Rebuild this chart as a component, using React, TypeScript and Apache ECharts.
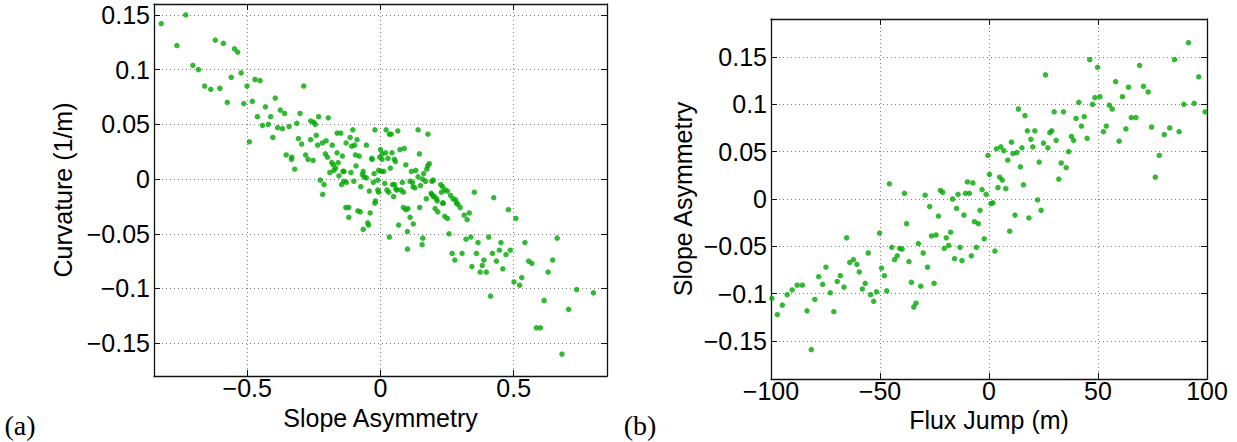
import React, { useEffect, useRef } from 'react';
import * as echarts from 'echarts';

// Panel (a): Slope Asymmetry (x) vs Curvature (1/m) (y)
const slopeAsymA = [
  -0.823, -0.731, -0.764, -0.704, -0.683, -0.620, -0.590, -0.548, -0.536, -0.660,
  -0.637, -0.603, -0.560, -0.523, -0.501, -0.575, -0.513, -0.481, -0.471, -0.452,
  -0.288, -0.395, -0.432, -0.462, -0.443, -0.421, -0.412, -0.492, -0.404, -0.376,
  -0.360, -0.386, -0.368, -0.343, -0.302, -0.314, -0.262, -0.251, -0.245, -0.196,
  -0.232, -0.308, -0.296, -0.241, -0.262, -0.236, -0.218, -0.354, -0.333, -0.334,
  -0.322, -0.281, -0.272, -0.253, -0.204, -0.181, -0.163, -0.149, -0.207, -0.199,
  -0.163, -0.143, -0.183, -0.177, -0.159, -0.168, -0.175, -0.190, -0.226, -0.212,
  -0.217, -0.129, -0.114, -0.104, -0.108, -0.097, -0.088, -0.053, -0.094, -0.080,
  -0.092, -0.137, -0.111, -0.138, -0.128, -0.146, -0.100, -0.065, -0.068, -0.061,
  -0.074, -0.053, -0.033, -0.031, -0.021, 0.000, 0.006, 0.019, 0.043, -0.003,
  0.028, 0.006, 0.033, 0.021, 0.040, 0.065, 0.052, 0.056, 0.073, 0.089,
  -0.007, 0.003, 0.012, 0.037, -0.024, -0.010, -0.027, -0.042, -0.010, -0.007,
  0.016, 0.024, 0.031, 0.045, 0.053, 0.058, 0.049, 0.061, 0.077, 0.086,
  0.082, 0.095, 0.116, 0.111, 0.120, 0.122, 0.129, 0.132, 0.141, 0.141,
  0.178, 0.146, 0.183, 0.177, 0.174, 0.162, 0.158, 0.169, 0.193, 0.198,
  0.193, 0.202, 0.210, 0.172, 0.147, 0.086, 0.095, 0.103, 0.111, 0.123,
  0.068, 0.101, 0.033, 0.159, 0.156, 0.101, 0.205, 0.215, 0.226, 0.233,
  0.229, 0.242, 0.251, 0.235, 0.241, 0.251, 0.263, 0.272, 0.282, 0.290,
  0.299, 0.285, 0.257, 0.269, 0.279, 0.306, 0.314, 0.325, 0.333, 0.352,
  0.321, 0.339, 0.366, 0.360, 0.343, 0.374, 0.382, 0.388, 0.397, 0.406,
  0.425, 0.420, 0.435, 0.413, 0.446, 0.452, 0.459, 0.471, 0.480, 0.487,
  0.508, 0.501, 0.522, 0.530, 0.542, 0.556, 0.568, 0.585, 0.600, 0.614,
  0.629, 0.646, 0.663, 0.681, 0.706, 0.736, 0.799, -0.130, -0.119, -0.119,
  -0.085, -0.076, -0.065, -0.048, -0.045, -0.039, -0.019, -0.021, 0.150, 0.190,
  0.199, 0.213, 0.234, -0.156, -0.141
];
const curvatureA = [
  0.142, 0.150, 0.122, 0.104, 0.100, 0.127, 0.124, 0.119, 0.116, 0.085,
  0.082, 0.083, 0.093, 0.097, 0.085, 0.070, 0.069, 0.071, 0.091, 0.090,
  0.085, 0.074, 0.066, 0.057, 0.049, 0.050, 0.057, 0.034, 0.038, 0.063,
  0.060, 0.047, 0.046, 0.048, 0.060, 0.051, 0.053, 0.052, 0.050, 0.056,
  0.057, 0.037, 0.032, 0.040, 0.036, 0.031, 0.033, 0.022, 0.020, 0.018,
  0.009, 0.022, 0.018, 0.017, 0.035, 0.031, 0.042, 0.042, 0.023, 0.020,
  0.024, 0.021, 0.015, 0.013, 0.015, 0.010, 0.008, 0.006, -0.001, -0.005,
  -0.014, 0.033, 0.038, 0.045, 0.030, 0.031, 0.036, 0.031, 0.022, 0.021,
  0.012, 0.007, 0.006, -0.002, -0.003, -0.005, -0.002, 0.007, 0.004, 0.002,
  -0.007, 0.001, 0.019, 0.018, 0.045, 0.027, 0.023, 0.024, 0.024, 0.020,
  0.019, 0.018, 0.041, 0.045, 0.041, 0.044, 0.018, 0.016, 0.027, 0.028,
  0.008, 0.007, 0.007, 0.010, 0.005, -0.001, -0.003, -0.011, -0.010, -0.012,
  -0.004, -0.010, -0.012, -0.005, -0.005, -0.009, -0.016, -0.010, -0.010, -0.012,
  -0.003, 0.013, 0.007, -0.002, -0.003, -0.007, -0.008, 0.008, 0.002, 0.045,
  0.041, 0.023, 0.014, 0.012, 0.009, 0.005, 0.000, -0.002, -0.002, -0.001,
  -0.014, -0.016, -0.018, -0.018, -0.026, -0.026, -0.028, -0.027, -0.035, -0.041,
  -0.042, -0.048, -0.053, -0.054, -0.060, -0.064, -0.027, -0.030, -0.005, -0.007,
  -0.012, -0.010, -0.011, -0.022, -0.034, -0.036, -0.015, -0.018, -0.019, -0.023,
  -0.026, -0.022, -0.050, -0.068, -0.074, -0.068, -0.033, -0.037, -0.031, -0.012,
  -0.055, -0.053, -0.058, -0.068, -0.080, -0.085, -0.079, -0.074, -0.085, -0.053,
  -0.017, -0.068, -0.075, -0.107, -0.065, -0.058, -0.082, -0.069, -0.028, -0.065,
  -0.036, -0.094, -0.097, -0.090, -0.058, -0.075, -0.077, -0.136, -0.136, -0.111,
  -0.085, -0.074, -0.054, -0.160, -0.119, -0.101, -0.104, -0.026, -0.026, -0.035,
  -0.029, -0.030, -0.046, -0.040, -0.042, -0.031, -0.020, -0.022, -0.006, -0.013,
  -0.016, -0.020, -0.022, 0.003, 0.007
];

// Panel (b): Flux Jump (m) (x) vs Slope Asymmetry (y)
const fluxJumpB = [
  -99.6, -97.1, -94.8, -92.6, -90.3, -88.0, -85.6, -83.5, -81.5, -79.9,
  -78.1, -76.3, -74.8, -72.8, -71.2, -69.6, -68.2, -66.5, -65.3, -63.9,
  -62.2, -60.6, -59.5, -58.1, -56.8, -55.4, -54.3, -52.9, -51.6, -50.2,
  -49.3, -48.0, -46.9, -45.7, -44.6, -43.3, -42.1, -41.0, -39.9, -38.8,
  -37.8, -36.7, -35.6, -34.5, -33.5, -32.4, -31.3, -30.2, -29.3, -28.2,
  -27.2, -26.4, -25.2, -24.3, -23.2, -22.3, -21.2, -20.5, -19.6, -18.5,
  -17.6, -16.7, -15.8, -14.9, -14.2, -13.3, -12.4, -11.5, -10.8, -9.9,
  -9.0, -8.1, -7.4, -6.7, -5.8, -4.9, -4.1, -3.2, -2.2, -1.3,
  -0.5, 0.2, 0.9, 1.8, 2.7, 3.4, 4.1, 4.9, 5.4, 6.1,
  6.8, 7.7, 8.6, 9.5, 10.3, 11.0, 11.9, 12.8, 13.5, 14.4,
  15.1, 15.8, 16.5, 17.6, 18.3, 19.2, 20.1, 21.0, 22.3, 23.0,
  23.9, 25.0, 25.9, 27.0, 27.9, 28.8, 29.9, 30.8, 32.0, 33.1,
  34.2, 35.4, 36.5, 37.8, 38.8, 39.9, 41.2, 42.4, 43.7, 45.0,
  46.2, 47.5, 48.6, 49.8, 50.9, 52.5, 53.8, 55.2, 56.5, 58.1,
  59.7, 61.2, 62.8, 64.0, 65.3, 67.4, 69.1, 70.9, 73.0, 74.6,
  76.3, 78.1, 80.4, 82.9, 85.1, 87.2, 89.4, 91.5, 94.1, 96.2,
  99.1
];
const slopeAsymB = [
  -0.105, -0.122, -0.112, -0.101, -0.096, -0.091, -0.091, -0.118, -0.159, -0.106,
  -0.082, -0.090, -0.072, -0.099, -0.119, -0.087, -0.081, -0.093, -0.041, -0.067,
  -0.064, -0.069, -0.077, -0.095, -0.089, -0.057, -0.101, -0.108, -0.098, -0.036,
  -0.073, -0.081, -0.097, 0.016, -0.051, -0.064, -0.060, -0.052, -0.053, 0.006,
  -0.026, -0.066, -0.088, -0.114, -0.110, -0.047, -0.092, -0.057, 0.004, -0.072,
  -0.008, -0.039, -0.089, -0.038, -0.018, 0.009, 0.007, -0.052, -0.041, -0.049,
  -0.035, 0.000, -0.063, -0.010, 0.005, -0.051, -0.065, -0.017, 0.006, 0.018,
  0.006, -0.060, 0.017, -0.024, -0.051, -0.026, -0.012, 0.010, -0.042, 0.005,
  0.046, 0.026, -0.005, -0.004, -0.055, 0.053, 0.012, 0.023, 0.055, 0.020,
  0.051, 0.011, 0.041, -0.034, 0.060, 0.048, -0.017, 0.049, 0.095, 0.034,
  0.054, 0.015, 0.088, 0.072, -0.020, 0.063, 0.055, 0.072, -0.001, 0.039,
  -0.012, 0.059, 0.131, 0.054, 0.070, 0.072, 0.092, 0.062, 0.021, 0.038,
  0.092, 0.033, 0.050, 0.066, 0.062, 0.085, 0.102, 0.077, 0.087, 0.064,
  0.147, 0.100, 0.107, 0.139, 0.108, 0.071, 0.077, 0.099, 0.095, 0.124,
  0.061, 0.108, 0.074, 0.118, 0.086, 0.086, 0.141, 0.119, 0.113, 0.076,
  0.023, 0.046, 0.068, 0.075, 0.147, 0.071, 0.100, 0.165, 0.101, 0.129,
  0.092
];

// Tick labels
const ticksAx = [-0.5, 0, 0.5];
const ticksAy = [-0.15, -0.1, -0.05, 0, 0.05, 0.1, 0.15];
const ticksBx = [-100, -50, 0, 50, 100];
const ticksBy = [-0.15, -0.1, -0.05, 0, 0.05, 0.1, 0.15];

const FONT = 'Liberation Sans';
const TICK_FS = 25;
const NAME_FS = 25;
const DOT = '#00a800';

const fmt = (v: number) => String(Math.round(v * 1000) / 1000).replace('-', '\u2212');

function makeAxis(
  gridIndex: number,
  position: 'bottom' | 'top' | 'left' | 'right',
  min: number,
  max: number,
  ticks: number[],
  name?: string,
  nameGap?: number
) {
  const main = position === 'bottom' || position === 'left';
  const horizontal = position === 'bottom' || position === 'top';
  return {
    type: 'value',
    gridIndex,
    position,
    min,
    max,
    name: main ? name : undefined,
    nameLocation: 'middle',
    nameGap,
    nameMoveOverlap: false,
    nameTextStyle: { fontFamily: FONT, fontSize: NAME_FS, color: '#000', lineHeight: 22 },
    axisLine: { show: true, onZero: false, lineStyle: { color: '#111', width: 1.3 } },
    axisTick: {
      show: true,
      inside: true,
      length: 6,
      customValues: ticks,
      lineStyle: { color: '#111', width: 1 },
    },
    axisLabel: {
      show: main,
      customValues: ticks,
      formatter: fmt,
      color: '#000',
      fontFamily: FONT,
      fontSize: TICK_FS,
      lineHeight: 22,
      margin: horizontal ? 1 : 4,
    },
    splitLine: {
      show: main,
      lineStyle: { type: [1, 3], color: '#808080', width: 1 },
    },
  };
}

export default function App() {
  const ref = useRef<HTMLDivElement>(null);
  useEffect(() => {
    if (!ref.current) return;
    const chart = echarts.init(ref.current, undefined, { renderer: 'svg' });
    const dataA = slopeAsymA.map((x, i) => [x, curvatureA[i]]);
    const dataB = fluxJumpB.map((x, i) => [x, slopeAsymB[i]]);
    chart.setOption({
      animation: false,
      backgroundColor: '#ffffff',
      grid: [
        { left: 154, top: 4, width: 453, height: 372 },
        { left: 771, top: 19, width: 436, height: 360 },
      ],
      xAxis: [
        makeAxis(0, 'bottom', -0.85, 0.85, ticksAx, 'Slope Asymmetry', 31),
        makeAxis(0, 'top', -0.85, 0.85, ticksAx),
        makeAxis(1, 'bottom', -100, 100, ticksBx, 'Flux Jump (m)', 30),
        makeAxis(1, 'top', -100, 100, ticksBx),
      ],
      yAxis: [
        makeAxis(0, 'left', -0.18, 0.16, ticksAy, 'Curvature (1/m)', 80),
        makeAxis(0, 'right', -0.18, 0.16, ticksAy),
        makeAxis(1, 'left', -0.19, 0.19, ticksBy, 'Slope Asymmetry', 77),
        makeAxis(1, 'right', -0.19, 0.19, ticksBy),
      ],
      series: [
        {
          type: 'scatter',
          xAxisIndex: 0,
          yAxisIndex: 0,
          data: dataA,
          symbolSize: 5.5,
          itemStyle: { color: DOT },
          clip: false,
        },
        {
          type: 'scatter',
          xAxisIndex: 2,
          yAxisIndex: 2,
          data: dataB,
          symbolSize: 5.5,
          itemStyle: { color: DOT },
          clip: false,
        },
      ],
      graphic: [
        {
          type: 'text',
          x: 20,
          y: 425,
          style: {
            text: '(a)',
            fontFamily: 'Liberation Serif',
            fontSize: 28,
            fill: '#000',
            align: 'center',
            verticalAlign: 'middle',
          },
        },
        {
          type: 'text',
          x: 640,
          y: 425,
          style: {
            text: '(b)',
            fontFamily: 'Liberation Serif',
            fontSize: 28,
            fill: '#000',
            align: 'center',
            verticalAlign: 'middle',
          },
        },
      ],
    });
    return () => chart.dispose();
  }, []);
  return (
    <div
      ref={ref}
      style={{ position: 'fixed', left: 0, top: 0, width: 1237, height: 442, background: '#fff' }}
    />
  );
}
